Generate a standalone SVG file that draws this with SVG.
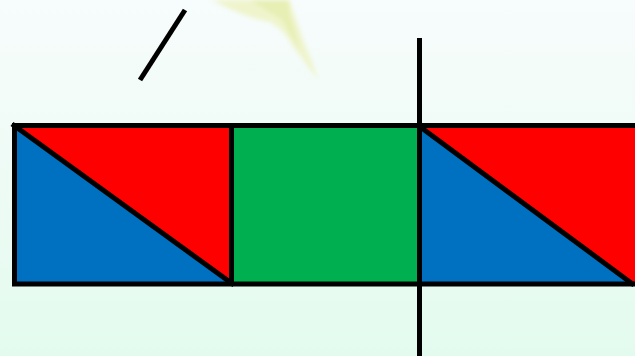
<svg xmlns="http://www.w3.org/2000/svg" width="635" height="356" viewBox="0 0 635 356">
<defs>
<linearGradient id="bg" x1="0" y1="0" x2="0" y2="1">
<stop offset="0" stop-color="#f7fcfc"/>
<stop offset="0.5" stop-color="#eefbf5"/>
<stop offset="1" stop-color="#e3fbee"/>
</linearGradient>
<filter id="soft" x="-20%" y="-20%" width="140%" height="140%"><feGaussianBlur stdDeviation="2"/></filter>
<style>
.k{stroke:#000;stroke-width:5;fill:none;stroke-linecap:butt}
.r{fill:#ff0000}.b{fill:#0070c0}.g{fill:#00b050}
</style>
</defs>
<rect width="635" height="356" fill="url(#bg)"/>
<g id="plant" filter="url(#soft)">
<path d="M212,0 Q245,18 270,22 Q285,30 292,45 Q305,62 318,80 Q312,60 305,45 Q298,25 292,8 L290,0 Z" fill="#eef3c0" opacity="0.8"/>
<path d="M250,0 Q265,10 282,20 Q290,35 300,50 Q295,30 290,15 L288,0 Z" fill="#e4ecaa" opacity="0.7"/>
</g>
<g id="left-square">
<polygon class="b" points="14,126 232,284 14,284"/>
<polygon class="r" points="14,126 232,126 232,284"/>
<line class="k" x1="12" y1="124" x2="234" y2="285"/>
</g>
<g id="middle-square">
<rect class="g" x="232" y="126" width="187" height="158"/>
</g>
<g id="right-square">
<polygon class="b" points="419,126 633,284 419,284"/>
<polygon class="r" points="419,126 640,126 640,284 633,284"/>
<line class="k" x1="419" y1="126" x2="634" y2="285"/>
</g>
<g id="frame">
<polyline class="k" points="640,125.5 14.5,125.5 14.5,284 640,284"/>
<line class="k" x1="231.5" y1="125" x2="231.5" y2="286"/>
</g>
<g id="connectors">
<line class="k" x1="419.5" y1="38" x2="419.5" y2="356"/>
<line class="k" x1="140" y1="80" x2="185" y2="10"/>
</g>
</svg>
